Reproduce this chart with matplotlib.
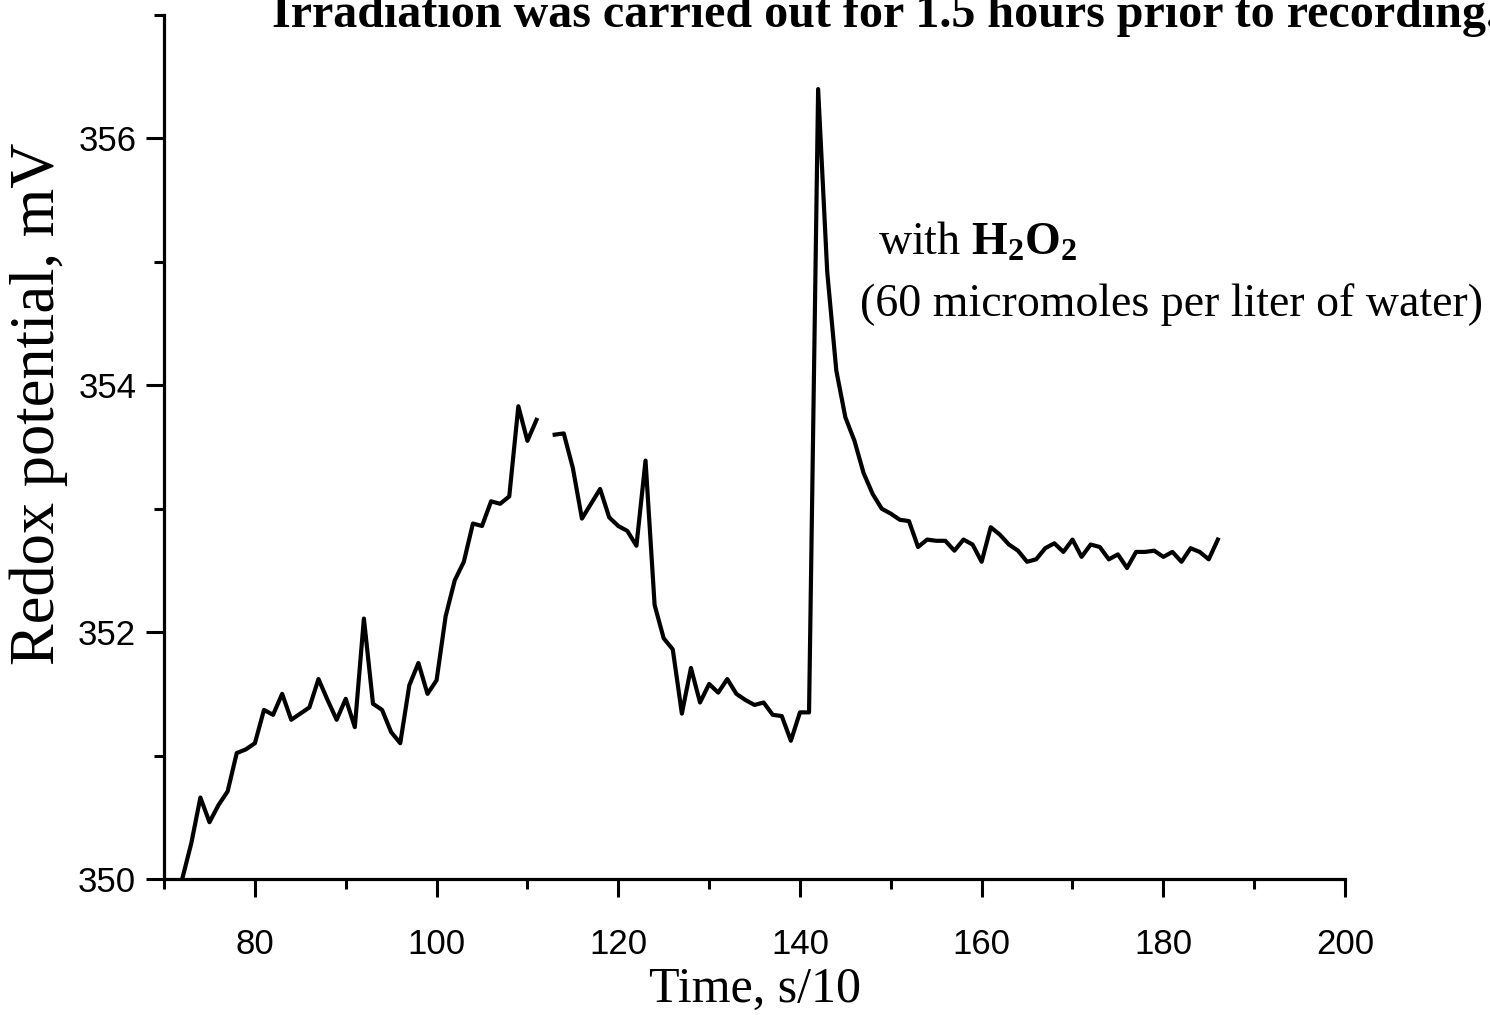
import matplotlib
matplotlib.use("Agg")
import matplotlib.pyplot as plt
from matplotlib.ticker import MultipleLocator
import numpy as np

# redox potential readings, one every 10 s (time in s/10); no reading at 112
time = np.arange(72, 187)
redox = [
    350.00, 350.29, 350.66, 350.46, 350.60, 350.71, 351.02, 351.05, 351.10,  # 72-80
    351.37, 351.33, 351.50, 351.29, 351.34, 351.39, 351.62, 351.45, 351.29, 351.46,  # 81-90
    351.23, 352.11, 351.42, 351.37, 351.19, 351.10, 351.57, 351.75, 351.50, 351.61,  # 91-100
    352.13, 352.42, 352.57, 352.88, 352.86, 353.06, 353.04, 353.10, 353.83, 353.55,  # 101-110
    353.72, np.nan, 353.60, 353.61, 353.33, 352.92, 353.04, 353.16, 352.93, 352.86,  # 111-120
    352.82, 352.70, 353.39, 352.22, 351.95, 351.86, 351.34, 351.71, 351.43, 351.58,  # 121-130
    351.51, 351.62, 351.50, 351.45, 351.41, 351.43, 351.33, 351.32, 351.12, 351.35,  # 131-140
    351.35, 356.40, 354.92, 354.12, 353.74, 353.55, 353.29, 353.12, 353.00, 352.96,  # 141-150
    352.91, 352.90, 352.69, 352.75, 352.74, 352.74, 352.66, 352.75, 352.71, 352.57,  # 151-160
    352.85, 352.79, 352.71, 352.66, 352.57, 352.59, 352.68, 352.72, 352.65, 352.75,  # 161-170
    352.61, 352.71, 352.69, 352.59, 352.63, 352.52, 352.65, 352.65, 352.66, 352.61,  # 171-180
    352.65, 352.57, 352.68, 352.65, 352.59, 352.75,  # 181-186
]

plt.rcParams["mathtext.fontset"] = "custom"
plt.rcParams["mathtext.rm"] = "Liberation Serif"
plt.rcParams["mathtext.bf"] = "Liberation Serif:bold"

fig = plt.figure(figsize=(14.9, 10.15), dpi=100)
ax = fig.add_axes([0.1101, 0.1340, 0.7926, 0.8512])

ax.plot(time, redox, color="black", lw=3.0)

ax.set_xlim(70, 200)
ax.set_ylim(350, 357)
ax.xaxis.set_major_locator(MultipleLocator(20))
ax.xaxis.set_minor_locator(MultipleLocator(10))
ax.yaxis.set_major_locator(MultipleLocator(2))
ax.yaxis.set_minor_locator(MultipleLocator(1))

for side in ("top", "right"):
    ax.spines[side].set_visible(False)
for side in ("left", "bottom"):
    ax.spines[side].set_linewidth(2.3)

ax.tick_params(which="major", direction="out", length=13, width=2.2,
               labelsize=25)
ax.tick_params(which="minor", direction="out", length=7, width=2.2)
ax.tick_params(axis="x", which="major", pad=22)
ax.tick_params(axis="y", which="major", pad=7)
for lab in ax.get_xticklabels() + ax.get_yticklabels():
    lab.set_fontfamily("Liberation Sans")

ax.set_xlabel("Time, s/10", family="Liberation Serif", fontsize=36)
ax.xaxis.set_label_coords(0.5, -0.101)
ax.set_ylabel("Redox potential, mV", family="Liberation Serif", fontsize=45)
ax.yaxis.set_label_coords(-0.081, 0.55)

ax.text(148.6, 355.06, r"with $\mathbf{H_2O_2}$", family="Liberation Serif",
        fontsize=33, va="baseline", ha="left")
ax.text(146.6, 354.56, "(60 micromoles per liter of water)",
        family="Liberation Serif", fontsize=33, va="baseline", ha="left")

# title sits partly above the top edge of the figure
fig.text(272 / 1490, 1 - 27 / 1015,
         "Irradiation was carried out for 1.5 hours prior to recording.",
         family="Liberation Serif", weight="bold", fontsize=34.6,
         ha="left", va="baseline")

fig.savefig("out.png", dpi=100)
